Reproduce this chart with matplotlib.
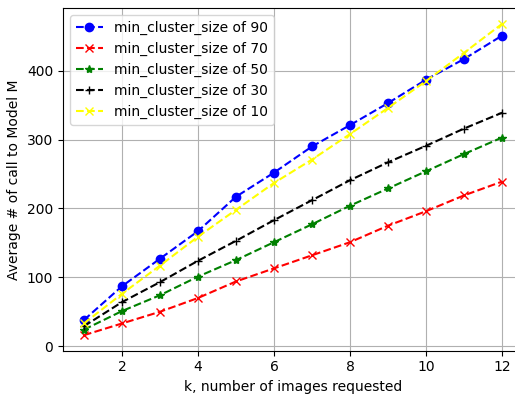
import numpy as np
import matplotlib
matplotlib.use("Agg")
import matplotlib.pyplot as plt

# ================================================================================
k = [1, 2, 3, 4, 5, 6, 7, 8, 9, 10, 11, 12]

calls_90 = [38, 87, 127, 167, 217, 252, 290, 321, 353, 387, 417, 451]
calls_70 = [16, 33, 50, 70, 94, 113, 132, 151, 175, 196, 219, 239]
calls_50 = [24, 51, 74, 101, 125, 151, 177, 204, 229, 254, 279, 303]
calls_30 = [29, 64, 93, 124, 153, 183, 212, 241, 267, 291, 316, 339]
calls_10 = [33, 76, 117, 159, 198, 237, 271, 308, 346, 385, 426, 468]

# ================================================================================
# the reference is cropped on the right, so the axes runs past the figure edge
fig = plt.figure(figsize=(5.15, 3.95), dpi=100)
ax = fig.add_axes([63 / 515, 0.112, 460 / 515, 0.867])

ax.plot(k, calls_90, "o--", color="blue", label="min_cluster_size of 90")
ax.plot(k, calls_70, "x--", color="red", label="min_cluster_size of 70")
ax.plot(k, calls_50, "*--", color="green", label="min_cluster_size of 50")
ax.plot(k, calls_30, "+--", color="black", label="min_cluster_size of 30")
ax.plot(k, calls_10, "x--", color="yellow", label="min_cluster_size of 10")

ax.set_xticks([2, 4, 6, 8, 10, 12])
ax.grid(True)
ax.legend(loc="upper left")
ax.set_xlabel("k, number of images requested")
ax.set_ylabel("Average # of call to Model M")

fig.savefig("out.png", dpi=100)
